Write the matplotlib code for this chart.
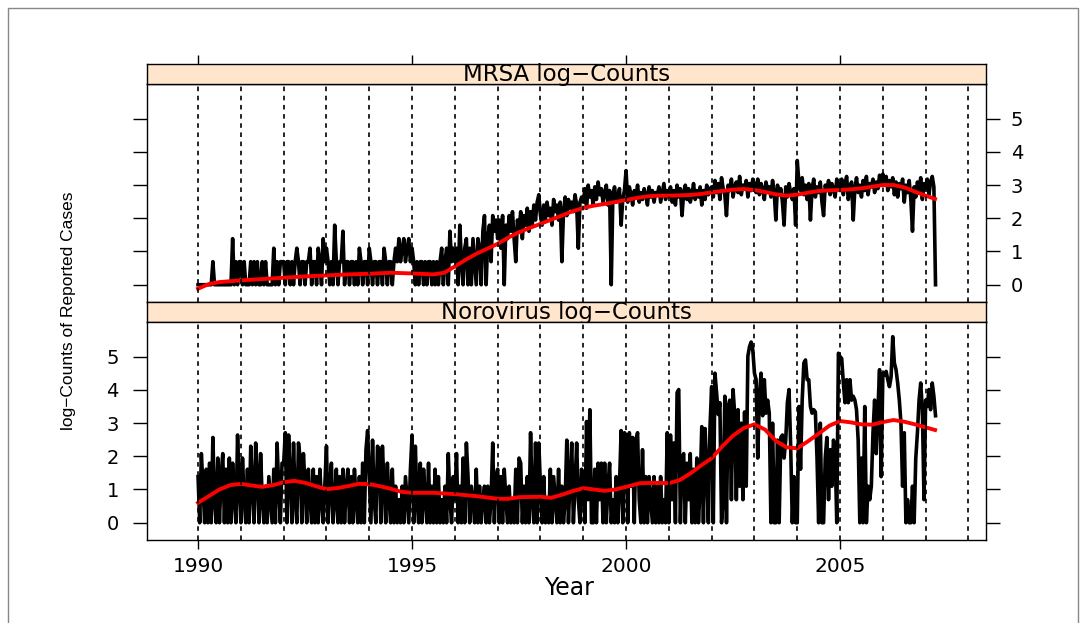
import numpy as np
import matplotlib.pyplot as plt
from matplotlib.patches import Rectangle

plt.rcParams['lines.scale_dashes'] = False

# fortnightly case counts, one row per year (26 values), starting 1990
mrsa_counts = [
    1, 1, 1, 1, 1, 1, 1, 1, 1, 2, 1, 1, 1, 1, 1, 1, 1, 1, 1, 1, 1, 4, 1, 2, 1, 2,
    2, 1, 2, 1, 1, 1, 2, 1, 2, 1, 2, 1, 1, 2, 1, 2, 1, 1, 1, 1, 3, 1, 2, 1, 2, 2,
    2, 1, 2, 2, 1, 2, 1, 2, 3, 2, 1, 2, 2, 1, 2, 2, 3, 1, 2, 2, 1, 3, 2, 1, 4, 2,
    3, 2, 1, 2, 1, 6, 2, 1, 2, 2, 5, 1, 2, 2, 1, 2, 2, 1, 2, 1, 3, 2, 1, 2, 2, 1,
    3, 2, 1, 2, 2, 1, 2, 2, 1, 3, 2, 1, 2, 2, 1, 2, 3, 2, 4, 2, 3, 4, 2, 3, 4, 2,
    3, 2, 1, 2, 1, 2, 2, 1, 2, 1, 2, 2, 1, 2, 1, 2, 1, 2, 3, 1, 2, 3, 1, 5, 2, 3,
    2, 3, 1, 6, 2, 1, 3, 4, 1, 3, 1, 4, 2, 1, 4, 3, 1, 5, 8, 1, 4, 6, 2, 8, 5, 7,
    4, 7, 3, 8, 1, 6, 4, 8, 5, 9, 4, 2, 7, 5, 9, 4, 8, 6, 10, 5, 9, 6, 11, 7, 12, 15,
    8, 6, 11, 7, 12, 8, 10, 6, 13, 9, 11, 7, 12, 2, 9, 14, 8, 13, 10, 12, 9, 15, 11, 3, 12, 14,
    12, 18, 10, 20, 14, 17, 11, 19, 13, 22, 15, 18, 12, 16, 20, 11, 17, 1, 15, 19, 12, 14, 18, 6, 13, 17,
    31, 12, 19, 15, 11, 17, 14, 20, 12, 16, 13, 18, 15, 11, 19, 14, 17, 12, 16, 15, 19, 12, 16, 21, 13, 17,
    15, 19, 12, 17, 11, 20, 14, 18, 8, 16, 20, 13, 18, 12, 15, 21, 13, 17, 14, 19, 11, 17, 13, 20, 15, 18,
    19, 14, 23, 16, 21, 13, 25, 18, 15, 8, 20, 17, 24, 14, 19, 22, 16, 26, 15, 20, 18, 23, 14, 21, 17, 24,
    20, 16, 24, 15, 21, 18, 13, 22, 17, 19, 14, 23, 16, 7, 20, 15, 18, 12, 6, 19, 14, 21, 16, 13, 18, 6,
    42, 22, 17, 25, 15, 20, 13, 21, 7, 18, 24, 14, 19, 16, 22, 12, 8, 20, 17, 23, 15, 21, 18, 14, 24, 19,
    17, 24, 15, 21, 26, 13, 19, 22, 7, 18, 25, 16, 20, 14, 23, 17, 26, 15, 21, 19, 24, 16, 22, 18, 27, 20,
    28, 20, 26, 17, 23, 19, 25, 15, 22, 14, 21, 18, 24, 12, 20, 16, 23, 13, 5, 19, 14, 22, 17, 25, 13, 21,
    18, 24, 15, 22, 26, 19, 1,
]

noro_counts = [
    4, 1, 8, 3, 1, 5, 1, 6, 1, 13, 2, 1, 7, 1, 4, 8, 1, 5, 1, 7, 1, 6, 2, 1, 14, 3,
    1, 7, 2, 1, 5, 1, 10, 3, 1, 11, 4, 1, 8, 2, 1, 3, 1, 4, 2, 1, 5, 1, 11, 3, 1, 6,
    6, 15, 1, 14, 4, 1, 11, 2, 1, 11, 7, 1, 8, 3, 1, 5, 2, 1, 5, 1, 4, 1, 5, 2, 1, 3,
    10, 1, 3, 6, 1, 2, 5, 1, 4, 1, 5, 1, 3, 5, 1, 4, 1, 5, 2, 1, 4, 1, 6, 1, 9, 16,
    4, 1, 12, 2, 1, 10, 9, 1, 10, 3, 1, 6, 2, 1, 5, 1, 3, 1, 2, 1, 3, 1, 4, 2, 1, 5,
    14, 1, 10, 2, 1, 6, 1, 5, 2, 1, 6, 1, 3, 1, 5, 1, 4, 1, 2, 1, 3, 1, 8, 2, 1, 4,
    2, 8, 1, 3, 1, 7, 1, 11, 4, 1, 3, 2, 1, 5, 1, 3, 1, 2, 3, 1, 3, 1, 2, 11, 1, 4,
    5, 1, 4, 1, 5, 2, 1, 3, 1, 2, 1, 5, 1, 7, 6, 1, 3, 1, 4, 1, 15, 2, 1, 11, 1, 11,
    3, 1, 4, 1, 2, 1, 5, 1, 4, 2, 1, 5, 1, 3, 1, 2, 12, 1, 4, 11, 1, 3, 11, 2, 1, 5,
    3, 1, 21, 2, 30, 1, 1, 5, 1, 6, 2, 6, 1, 6, 1, 3, 6, 1, 2, 1, 4, 1, 3, 16, 1, 15,
    14, 1, 15, 3, 13, 1, 12, 15, 2, 1, 9, 1, 4, 1, 4, 2, 1, 4, 1, 3, 1, 4, 1, 2, 1, 15,
    1, 14, 2, 11, 1, 50, 55, 1, 7, 8, 1, 6, 2, 8, 1, 5, 1, 7, 1, 3, 18, 1, 17, 5, 1, 18,
    60, 1, 90, 50, 26, 37, 1, 2, 45, 1, 33, 40, 2, 55, 26, 2, 30, 3, 20, 2, 28, 3, 150, 200, 230, 180,
    90, 74, 7, 45, 90, 25, 74, 27, 40, 27, 1, 20, 1, 1, 12, 1, 13, 14, 7, 12, 37, 55, 10, 1, 4, 1,
    1, 33, 5, 40, 122, 134, 74, 74, 33, 27, 30, 28, 7, 1, 20, 1, 1, 7, 13, 2, 9, 3, 12, 9, 1, 164,
    148, 140, 67, 37, 74, 37, 74, 40, 45, 40, 30, 12, 1, 7, 1, 33, 1, 3, 2, 3, 15, 40, 8, 30, 100, 4,
    90, 85, 95, 74, 60, 80, 270, 122, 100, 67, 40, 20, 3, 15, 1, 2, 1, 1, 3, 1, 7, 15, 40, 67, 30, 2,
    40, 33, 55, 30, 67, 45, 25,
]
start_year = 1990
per_year = 26

# loess trend of the log-counts
mrsa_trend_year = [1990.0, 1990.25, 1990.5, 1991.0, 1991.5, 1992.0, 1992.5, 1993.0, 1993.5,
                   1994.0, 1994.5, 1995.0, 1995.5, 1995.75, 1996.0, 1996.25, 1996.5, 1996.75,
                   1997.0, 1997.25, 1997.5, 1997.75, 1998.0, 1998.25, 1998.5, 1998.75, 1999.0,
                   1999.25, 1999.5, 1999.75, 2000.0, 2000.25, 2000.5, 2000.75, 2001.0, 2001.25,
                   2001.5, 2001.75, 2002.0, 2002.25, 2002.5, 2002.75, 2003.0, 2003.25, 2003.5,
                   2003.75, 2004.0, 2004.25, 2004.5, 2004.75, 2005.0, 2005.25, 2005.5, 2005.75,
                   2006.0, 2006.25, 2006.5, 2006.75, 2007.0, 2007.22]
mrsa_trend = [-0.12, 0.02, 0.08, 0.13, 0.17, 0.21, 0.25, 0.28, 0.31,
              0.33, 0.36, 0.34, 0.31, 0.36, 0.55, 0.75, 0.93, 1.08,
              1.23, 1.42, 1.58, 1.71, 1.83, 1.96, 2.08, 2.21, 2.31,
              2.38, 2.43, 2.49, 2.55, 2.61, 2.66, 2.68, 2.68, 2.69,
              2.70, 2.73, 2.78, 2.82, 2.86, 2.88, 2.85, 2.79, 2.72,
              2.68, 2.71, 2.77, 2.82, 2.84, 2.85, 2.87, 2.90, 2.95,
              3.00, 3.00, 2.93, 2.80, 2.68, 2.58]

noro_trend_year = [1990.0, 1990.25, 1990.5, 1990.75, 1991.0, 1991.25, 1991.5, 1991.75, 1992.0,
                   1992.25, 1992.5, 1992.75, 1993.0, 1993.25, 1993.5, 1993.75, 1994.0, 1994.25,
                   1994.5, 1994.75, 1995.0, 1995.5, 1996.0, 1996.5, 1997.0, 1997.25, 1997.5,
                   1998.0, 1998.25, 1998.5, 1998.75, 1999.0, 1999.25, 1999.5, 1999.75, 2000.0,
                   2000.33, 2000.67, 2001.0, 2001.25, 2001.5, 2001.75, 2002.0, 2002.25, 2002.5,
                   2002.75, 2003.0, 2003.25, 2003.5, 2003.75, 2004.0, 2004.25, 2004.5, 2004.75,
                   2005.0, 2005.25, 2005.5, 2005.75, 2006.0, 2006.25, 2006.5, 2006.75, 2007.0,
                   2007.22]
noro_trend = [0.60, 0.80, 1.00, 1.13, 1.17, 1.12, 1.08, 1.13, 1.22,
              1.26, 1.20, 1.10, 1.01, 1.04, 1.10, 1.17, 1.16, 1.10,
              1.02, 0.93, 0.90, 0.90, 0.86, 0.80, 0.72, 0.72, 0.77,
              0.78, 0.75, 0.84, 0.95, 1.04, 1.00, 0.96, 1.00, 1.08,
              1.19, 1.20, 1.19, 1.28, 1.48, 1.72, 1.94, 2.30, 2.62,
              2.85, 2.96, 2.80, 2.46, 2.27, 2.24, 2.45, 2.68, 2.92,
              3.06, 3.02, 2.96, 2.95, 3.03, 3.09, 3.04, 2.96, 2.87,
              2.79]

panel_titles = ["MRSA log\u2212Counts", "Norovirus log\u2212Counts"]
year_lines = list(range(1990, 2009))
year_ticks = [1990, 1995, 2000, 2005]
y_ticks = [0, 1, 2, 3, 4, 5]

W, H = 1086, 623
XLIM = (1988.80, 2008.41)
YLIM = (-0.52, 6.04)


def box(left, top, right, bottom):
    # pixel box -> figure fraction rect
    return [left / W, 1 - bottom / H, (right - left) / W, (bottom - top) / H]


def draw_panel(ax, counts, trend_x, trend_y):
    t = start_year + np.arange(len(counts)) / per_year
    ax.plot(t, np.log(counts), color="black", lw=2.6, zorder=2)
    ax.plot(trend_x, trend_y, color="red", lw=2.8, zorder=3)
    for yr in year_lines:
        ax.axvline(yr, color="black", lw=1.2, dashes=(3.3, 3.3), zorder=4)
    ax.set_xlim(XLIM)
    ax.set_ylim(YLIM)
    ax.set_yticks(y_ticks)
    for sp in ax.spines.values():
        sp.set_linewidth(1.0)


def draw_strip(ax, title):
    ax.set_facecolor("#FFE5CC")
    ax.set_xlim(XLIM)
    ax.set_yticks([])
    ax.text(0.5, 0.45, title, ha="center", va="center", fontsize=16.5,
            transform=ax.transAxes)
    for sp in ax.spines.values():
        sp.set_linewidth(1.0)


fig = plt.figure(figsize=(W / 100, H / 100), dpi=100)

ax_top = fig.add_axes(box(146.7, 84, 986, 302))
strip_top = fig.add_axes(box(146.7, 64, 986, 84))
strip_bot = fig.add_axes(box(146.7, 302, 986, 322))
ax_bot = fig.add_axes(box(146.7, 322, 986, 540))

draw_panel(ax_top, mrsa_counts, mrsa_trend_year, mrsa_trend)
draw_panel(ax_bot, noro_counts, noro_trend_year, noro_trend)
draw_strip(strip_top, panel_titles[0])
draw_strip(strip_bot, panel_titles[1])

# top panel: y labels on the right, bottom panel: on the left
ax_top.tick_params(axis="y", left=True, right=True, labelleft=False, labelright=True,
                   direction="out", length=10, width=1, pad=8, labelsize=14)
ax_top.tick_params(axis="x", bottom=False, labelbottom=False)
ax_bot.tick_params(axis="y", left=True, right=True, labelleft=True, labelright=False,
                   direction="out", length=10, width=1, pad=10, labelsize=14)
ax_bot.set_xticks(year_ticks)
ax_bot.tick_params(axis="x", bottom=True, direction="out", length=6.5, width=1,
                   pad=6, labelsize=14.5)

strip_top.set_xticks(year_ticks)
strip_top.tick_params(axis="x", bottom=False, top=True, labelbottom=False,
                      direction="out", length=6.5, width=1)
strip_bot.set_xticks([])

fig.text(569 / W, 1 - 588 / H, "Year", ha="center", va="center", fontsize=17)
fig.text(68 / W, 1 - 311 / H, "log\u2212Counts of Reported Cases", rotation=90,
         ha="center", va="center", fontsize=12.5,
         family=["Liberation Sans Narrow", "Liberation Sans", "DejaVu Sans"])

# outer frame
fig.add_artist(Rectangle((8 / W, -0.1), (1078 - 8) / W, 1 - 8 / H + 0.1,
                         transform=fig.transFigure, fill=False,
                         edgecolor="#888888", lw=1))

fig.savefig("out.png", dpi=100)
